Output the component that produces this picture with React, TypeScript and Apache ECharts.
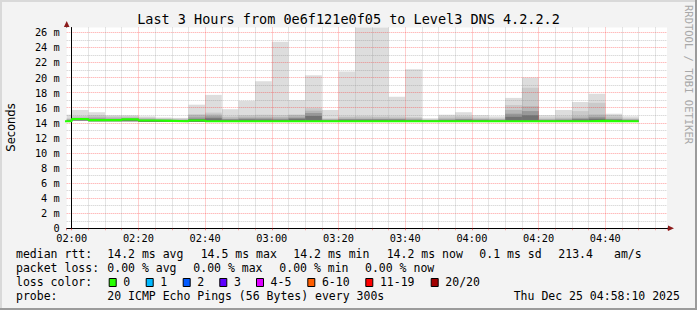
import React, { useEffect, useRef } from "react";
import * as echarts from "echarts";

// ---- data ----
const slotStarts = [
  "01:55", "02:00", "02:05", "02:10", "02:15", "02:20", "02:25", "02:30", "02:35",
  "02:40", "02:45", "02:50", "02:55", "03:00", "03:05", "03:10", "03:15", "03:20",
  "03:25", "03:30", "03:35", "03:40", "03:45", "03:50", "03:55", "04:00", "04:05",
  "04:10", "04:15", "04:20", "04:25", "04:30", "04:35", "04:40", "04:45",
];
const slotEnd = "04:50";

const pingMin = [
  14.1, 14.3, 14.2, 14.2, 14.2, 14.1, 14.1, 14.1, 14.1, 14.1, 14.1, 14.1, 14.1, 14.1,
  14.1, 14.1, 14.1, 14.1, 14.1, 14.1, 14.1, 14.1, 14.1, 14.1, 14.1, 14.1, 14.1, 14.1,
  14.1, 14.1, 14.1, 14.1, 14.1, 14.1, 14.1,
];
const pingMax = [
  15.07, 15.7, 15.4, 15.0, 15.0, 14.85, 14.7, 14.65, 16.4, 17.7, 15.8, 16.9, 19.5, 24.75,
  17.0, 20.3, 15.7, 20.8, 28.0, 27.5, 17.45, 21.1, 14.6, 15.07, 15.4, 15.0, 14.85, 17.3,
  20.0, 15.0, 15.7, 16.75, 17.85, 15.2, 14.85,
];
const smoke2 = [
  14.6, 14.9, 15.0, 14.85, 14.85, 14.7, 14.6, 14.55, 15.15, 15.35, 14.85, 15.0, 15.05, 15.0,
  15.1, 15.95, 14.6, 14.85, 14.9, 14.85, 14.85, 14.75, 14.45, 14.85, 14.9, 14.7, 14.6, 16.35,
  18.65, 14.7, 14.85, 15.55, 16.65, 15.0, 14.6,
];
const smoke3 = [
  14.5, 14.7, 14.8, 14.7, 14.7, 14.6, 14.5, 14.45, 15.0, 15.1, 14.7, 14.8, 14.8, 14.75,
  15.0, 15.6, 14.5, 14.7, 14.7, 14.7, 14.65, 14.6, 14.4, 14.6, 14.7, 14.55, 14.5, 15.7,
  16.2, 14.5, 14.6, 14.85, 15.1, 14.7, 14.5,
];
const smoke4 = [
  14.4, 14.6, 14.6, 14.55, 14.6, 14.45, 14.4, 14.35, 14.7, 14.85, 14.5, 14.6, 14.6, 14.55,
  14.7, 15.3, 14.4, 14.5, 14.5, 14.5, 14.5, 14.45, 14.35, 14.45, 14.5, 14.45, 14.4, 15.2,
  15.55, 14.4, 14.45, 14.6, 14.8, 14.5, 14.4,
];
const smoke5 = [
  14.3, 14.55, 14.45, 14.45, 14.5, 14.35, 14.3, 14.3, 14.5, 14.6, 14.4, 14.45, 14.45, 14.4,
  14.55, 14.9, 14.3, 14.4, 14.4, 14.4, 14.4, 14.35, 14.3, 14.35, 14.4, 14.35, 14.3, 14.8,
  15.0, 14.3, 14.35, 14.45, 14.55, 14.4, 14.3,
];
const medianRtt = [
  14.2, 14.5, 14.35, 14.35, 14.45, 14.3, 14.25, 14.2, 14.3, 14.2, 14.2, 14.2, 14.2, 14.2,
  14.2, 14.2, 14.2, 14.2, 14.2, 14.2, 14.2, 14.2, 14.2, 14.2, 14.2, 14.2, 14.2, 14.2,
  14.2, 14.2, 14.2, 14.2, 14.25, 14.2, 14.2,
];

const lossLabels = ["0", "1", "2", "3", "4-5", "6-10", "11-19", "20/20"];
const lossColors = ["#26ff00", "#00b8ff", "#0059ff", "#5e00ff", "#dd00ff", "#ff5e00", "#ff0000", "#a10000"];

const titleText = "Last 3 Hours from 0e6f121e0f05 to Level3 DNS 4.2.2.2";
const medianStats = ["14.2 ms avg", "14.5 ms max", "14.2 ms min", "14.2 ms now", "0.1 ms sd", "213.4", "am/s"];
const lossStats = ["0.00 % avg", "0.00 % max", "0.00 % min", "0.00 % now"];
const probeText = "20 ICMP Echo Pings (56 Bytes) every 300s";
const dateText = "Thu Dec 25 04:58:10 2025";

// ---- layout/style ----
const W = 697;
const H = 310;
const GL = 66.7;
const GT = 27.5;
const GW = 600.3;
const GH = 200.8;
const MONO = "'DejaVu Sans Mono', monospace";
const SMOKE_COLORS = ["#dddddd", "#cacaca", "#b6b6b6", "#989898", "#727272"];

const toMin = (s: string) => {
  const [h, m] = s.split(":").map(Number);
  return (h - 2) * 60 + m;
};

export default function App() {
  const ref = useRef<HTMLDivElement>(null);

  useEffect(() => {
    if (!ref.current) return;
    const chart = echarts.init(ref.current, null, { renderer: "svg", width: W, height: H });

    const bands = [pingMax, smoke2, smoke3, smoke4, smoke5];
    const slotData = (tops: number[]) =>
      slotStarts.map((s, i) => [
        toMin(s),
        toMin(i + 1 < slotStarts.length ? slotStarts[i + 1] : slotEnd),
        pingMin[i],
        tops[i],
      ]);

    const smokeSeries = bands.map((tops, k) => ({
      type: "custom",
      z: 2,
      silent: true,
      encode: { x: [0, 1], y: [2, 3] },
      data: slotData(tops),
      renderItem: (params: any, api: any) => {
        const a = api.coord([api.value(0), api.value(3)]);
        const b = api.coord([api.value(1), api.value(2)]);
        const cs = params.coordSys;
        const shape = echarts.graphic.clipRectByRect(
          { x: a[0], y: a[1], width: b[0] - a[0], height: b[1] - a[1] },
          { x: cs.x, y: cs.y, width: cs.width, height: cs.height }
        );
        if (!shape) return null;
        return { type: "rect", shape, style: { fill: SMOKE_COLORS[k] } };
      },
    }));

    const medianData = slotStarts.map((s, i) => [toMin(s), medianRtt[i]]);
    medianData.push([toMin(slotEnd), medianRtt[medianRtt.length - 1]]);

    const textEl = (text: string, x: number, y: number, extra: any = {}) => ({
      type: "text",
      x,
      y,
      silent: true,
      style: {
        text,
        fill: "#000",
        fontFamily: MONO,
        fontSize: 11.5,
        textAlign: "left",
        textVerticalAlign: "middle",
        verticalAlign: "middle",
        ...extra,
      },
    });

    const medX = [107.3, 200.7, 293.3, 386.7, 479.3, 558.3, 614];
    const lossX = [107.3, 193.3, 279.3, 365];
    const boxX = [108.7, 145.7, 182.7, 219.3, 256, 307.3, 365.3, 430.7];

    const graphics: any[] = [
      { type: "rect", shape: { x: 0, y: 0, width: W, height: 2 }, style: { fill: "#d9d9d9" }, silent: true },
      { type: "rect", shape: { x: 0, y: 0, width: 2, height: H }, style: { fill: "#d9d9d9" }, silent: true },
      { type: "rect", shape: { x: 0, y: H - 2, width: W, height: 2 }, style: { fill: "#9b9b9b" }, silent: true },
      { type: "rect", shape: { x: W - 2, y: 0, width: 2, height: H }, style: { fill: "#9b9b9b" }, silent: true },
      textEl(titleText, 348.5, 19, { fontSize: 13.5, textAlign: "center" }),
      {
        type: "text",
        x: 10.8,
        y: 127.5,
        rotation: Math.PI / 2,
        silent: true,
        style: {
          text: "Seconds",
          fill: "#000",
          fontFamily: "'DejaVu Sans', sans-serif",
          fontSize: 11.5,
          textAlign: "center",
          textVerticalAlign: "middle",
          verticalAlign: "middle",
        },
      },
      {
        type: "text",
        x: 688.5,
        y: 5,
        rotation: -Math.PI / 2,
        silent: true,
        style: {
          text: "RRDTOOL / TOBI OETIKER",
          fill: "#a8a8a8",
          fontFamily: MONO,
          fontSize: 10.5,
          textAlign: "left",
          textVerticalAlign: "middle",
          verticalAlign: "middle",
        },
      },
      // axis arrows
      {
        type: "polygon",
        silent: true,
        z: 20,
        shape: { points: [[GL - 2.8, GT - 0.5], [GL + 2.8, GT - 0.5], [GL, GT - 6.5]] },
        style: { fill: "#8b1a1a" },
      },
      {
        type: "polygon",
        silent: true,
        z: 20,
        shape: { points: [[GL + GW + 1, GT + GH - 2.8], [GL + GW + 1, GT + GH + 2.8], [GL + GW + 7, GT + GH]] },
        style: { fill: "#8b1a1a" },
      },
      {
        type: "line",
        silent: true,
        z: 19,
        shape: { x1: GL, y1: GT, x2: GL, y2: GT - 3 },
        style: { stroke: "#000", lineWidth: 1 },
      },
      {
        type: "line",
        silent: true,
        z: 19,
        shape: { x1: GL + GW, y1: GT + GH, x2: GL + GW + 2, y2: GT + GH },
        style: { stroke: "#000", lineWidth: 1 },
      },
      textEl("median rtt:", 16, 254.3),
      textEl("packet loss:", 16, 268.3),
      textEl("loss color:", 16, 282.3),
      textEl("probe:", 16, 296),
      textEl(probeText, 107.3, 296),
      textEl(dateText, 513.7, 296),
    ];
    medianStats.forEach((t, i) => graphics.push(textEl(t, medX[i], 254.3)));
    lossStats.forEach((t, i) => graphics.push(textEl(t, lossX[i], 268.3)));
    lossLabels.forEach((t, i) => {
      graphics.push({
        type: "rect",
        silent: true,
        shape: { x: boxX[i] + 0.5, y: 278.5, width: 7, height: 8 },
        style: { fill: lossColors[i], stroke: "#000", lineWidth: 1 },
      });
      graphics.push(textEl(t, boxX[i] + 14.6, 282.3));
    });

    const majorLine = { color: "rgba(255,0,0,0.38)", width: 1, type: [1, 1] };
    const minorLine = { color: "rgba(128,128,128,0.4)", width: 1, type: [1, 1] };

    chart.setOption({
      animation: false,
      backgroundColor: "#f3f3f3",
      grid: {
        left: GL,
        top: GT,
        width: GW,
        height: GH,
        show: true,
        backgroundColor: "#ffffff",
        borderWidth: 0,
        containLabel: false,
      },
      xAxis: {
        type: "value",
        min: -1.5,
        max: 178.5,
        splitNumber: 9,
        minInterval: 20,
        maxInterval: 20,
        z: 5,
        axisLine: { show: true, onZero: false, lineStyle: { color: "#000", width: 1 } },
        axisTick: { show: true, length: 2, lineStyle: { color: "rgba(255,0,0,0.45)" } },
        minorTick: { show: true, splitNumber: 4, length: 2, lineStyle: { color: "rgba(255,0,0,0.3)" } },
        axisLabel: {
          show: true,
          showMinLabel: false,
          showMaxLabel: false,
          margin: 5,
          color: "#000",
          fontFamily: MONO,
          fontSize: 10.3,
          formatter: (v: number) => {
            const m = Math.round(120 + v);
            const h = Math.floor(m / 60);
            const mm = m % 60;
            return `${String(h).padStart(2, "0")}:${String(mm).padStart(2, "0")}`;
          },
        },
        splitLine: { show: true, showMinLine: false, showMaxLine: false, lineStyle: majorLine },
        minorSplitLine: { show: true, lineStyle: minorLine },
      },
      yAxis: {
        type: "value",
        min: 0,
        max: 26.64,
        splitNumber: 13,
        minInterval: 2,
        maxInterval: 2,
        z: 5,
        axisLine: { show: true, lineStyle: { color: "#000", width: 1 } },
        axisTick: { show: false },
        minorTick: { show: false, splitNumber: 2 },
        axisLabel: {
          show: true,
          showMaxLabel: false,
          margin: 7,
          color: "#000",
          fontFamily: MONO,
          fontSize: 10.3,
          formatter: (v: number) => (v === 0 ? "0" : `${v} m`),
        },
        splitLine: { show: true, showMinLine: false, showMaxLine: false, lineStyle: majorLine },
        minorSplitLine: { show: true, lineStyle: minorLine },
      },
      graphic: graphics,
      series: [
        ...smokeSeries,
        {
          type: "line",
          z: 10,
          silent: true,
          step: "end",
          symbol: "none",
          clip: true,
          data: medianData,
          lineStyle: { color: lossColors[0], width: 2.2 },
        },
      ],
    } as any);

    return () => chart.dispose();
  }, []);

  return (
    <div
      ref={ref}
      style={{ position: "absolute", left: 0, top: 0, width: W, height: H }}
    />
  );
}
